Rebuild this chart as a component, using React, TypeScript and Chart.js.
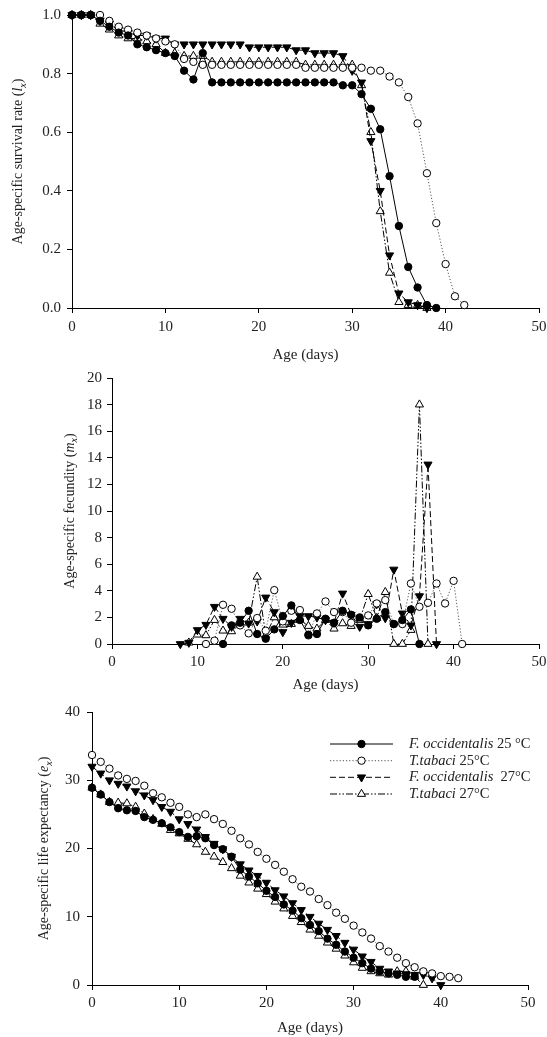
import React, { useEffect, useRef } from 'react';
import { Chart, registerables } from 'chart.js';

Chart.register(...registerables);

const FONT = "'Liberation Serif', 'Times New Roman', serif";
const TEXT = '#222';

// ---------- Data ----------
// Age-specific survival rate (lx), starting at day 0
const survFO25 = [1.0, 1.0, 1.0, 0.98, 0.96, 0.94, 0.93, 0.9, 0.89, 0.88, 0.87, 0.86, 0.81, 0.78, 0.87, 0.77, 0.77, 0.77, 0.77, 0.77, 0.77, 0.77, 0.77, 0.77, 0.77, 0.77, 0.77, 0.77, 0.77, 0.76, 0.76, 0.73, 0.68, 0.61, 0.45, 0.28, 0.14, 0.07, 0.01, 0.0];
const survTT25 = [1.0, 1.0, 1.0, 1.0, 0.98, 0.96, 0.95, 0.94, 0.93, 0.92, 0.91, 0.9, 0.85, 0.84, 0.83, 0.83, 0.83, 0.83, 0.83, 0.83, 0.83, 0.83, 0.83, 0.83, 0.83, 0.82, 0.82, 0.82, 0.82, 0.82, 0.82, 0.82, 0.81, 0.81, 0.79, 0.77, 0.72, 0.63, 0.46, 0.29, 0.15, 0.04, 0.01];
const survFO27 = [1.0, 1.0, 1.0, 0.98, 0.97, 0.95, 0.94, 0.93, 0.93, 0.92, 0.92, 0.9, 0.9, 0.9, 0.9, 0.9, 0.9, 0.9, 0.9, 0.89, 0.89, 0.89, 0.89, 0.89, 0.88, 0.88, 0.87, 0.87, 0.87, 0.86, 0.81, 0.77, 0.57, 0.4, 0.18, 0.05, 0.02, 0.01, 0.0];
const survTT27 = [1.0, 1.0, 1.0, 0.97, 0.95, 0.93, 0.92, 0.92, 0.91, 0.9, 0.87, 0.87, 0.86, 0.86, 0.86, 0.84, 0.84, 0.84, 0.84, 0.84, 0.84, 0.84, 0.84, 0.84, 0.84, 0.83, 0.83, 0.83, 0.83, 0.83, 0.83, 0.76, 0.6, 0.33, 0.12, 0.02, 0.01, 0.01, 0.0];

// Age-specific fecundity (mx)
const fecFO25Start = 13;
const fecFO25 = [0, 1.4, 1.6, 2.5, 0.75, 0.4, 1.1, 2.1, 2.9, 1.8, 0.7, 0.75, 1.9, 1.6, 2.5, 2.2, 2.0, 1.4, 1.9, 2.4, 1.5, 1.8, 2.6, 0];
const fecTT25Start = 11;
const fecTT25 = [0, 0.25, 2.95, 2.65, 1.4, 0.8, 1.95, 1.0, 4.05, 1.7, 2.5, 2.55, 0.65, 2.3, 3.2, 2.4, 2.4, 1.6, 1.9, 2.15, 3.05, 3.3, 1.5, 1.5, 4.55, 2.8, 3.1, 4.55, 3.05, 4.75, 0];
const fecFO27Start = 8;
const fecFO27 = [0, 0.1, 1.05, 1.45, 2.8, 1.9, 1.3, 1.9, 1.55, 1.7, 3.5, 2.4, 0.9, 1.6, 2.1, 2.1, 2.0, 1.8, 1.6, 3.8, 2.2, 1.3, 1.5, 3.0, 1.95, 5.6, 2.3, 1.4, 3.6, 13.5, 0];
const fecTT27Start = 9;
const fecTT27 = [0.1, 0.7, 0.65, 1.8, 1.0, 0.95, 1.5, 1.6, 5.05, 0.65, 2.0, 1.45, 1.5, 1.8, 1.35, 1.15, 1.8, 1.15, 1.55, 1.35, 1.8, 3.75, 1.95, 3.9, 0, 0, 1.05, 18.0, 0];

// Age-specific life expectancy (ex), starting at day 0
const lifeFO25 = [28.9, 27.9, 26.8, 25.9, 25.6, 25.5, 24.6, 24.2, 23.7, 23.1, 22.4, 21.7, 21.8, 21.5, 20.5, 19.9, 18.8, 16.9, 15.9, 14.9, 13.8, 12.9, 11.8, 10.9, 9.8, 8.8, 7.9, 6.8, 5.9, 4.9, 4.0, 3.2, 2.4, 2.0, 1.7, 1.5, 1.2, 1.2];
const lifeTT25 = [33.7, 32.7, 31.7, 30.7, 30.2, 29.9, 29.2, 28.1, 27.5, 26.7, 26.1, 25.0, 24.6, 25.0, 24.3, 23.6, 22.6, 21.5, 20.6, 19.5, 18.5, 17.6, 16.6, 15.5, 14.4, 13.7, 12.6, 11.7, 10.6, 9.7, 8.7, 7.7, 6.8, 5.7, 4.9, 4.0, 3.2, 2.6, 2.0, 1.7, 1.3, 1.2, 1.0];
const lifeFO27 = [32.0, 31.0, 30.0, 29.5, 29.1, 28.4, 27.8, 27.1, 26.1, 25.4, 24.3, 23.6, 22.8, 21.7, 20.7, 19.9, 18.8, 17.7, 16.8, 16.0, 15.0, 13.9, 13.0, 12.0, 11.0, 10.0, 9.0, 8.1, 7.2, 6.2, 5.2, 4.2, 3.4, 2.4, 2.0, 1.7, 1.6, 1.5, 1.5, 1.0, 0];
const lifeTT27 = [28.9, 27.9, 26.8, 26.7, 26.6, 26.1, 25.1, 24.3, 23.6, 22.7, 22.2, 21.4, 20.6, 19.5, 18.8, 18.0, 17.1, 16.0, 15.0, 14.1, 13.3, 12.2, 11.2, 10.1, 9.2, 8.1, 7.2, 6.2, 5.3, 4.3, 3.3, 2.5, 2.0, 1.7, 1.5, 2.0, 2.0, 1.2, 0];

// Legend / series names
const speciesNames = ['F. occidentalis', 'T.tabaci', 'F. occidentalis', 'T.tabaci'];
const tempNames = [' 25 °C', ' 25°C', '  27°C', ' 27°C'];

// ---------- Styles ----------
const seriesStyles = [
  { borderColor: '#000', borderWidth: 1, borderDash: [] as number[], pointStyle: 'circle', pointRotation: 0, pointRadius: 3.7, pointBackgroundColor: '#000' },
  { borderColor: '#555', borderWidth: 1, borderDash: [1.2, 2], pointStyle: 'circle', pointRotation: 0, pointRadius: 3.7, pointBackgroundColor: '#fff' },
  { borderColor: '#000', borderWidth: 1, borderDash: [6, 3], pointStyle: 'triangle', pointRotation: 180, pointRadius: 4.7, pointBackgroundColor: '#000' },
  { borderColor: '#000', borderWidth: 1, borderDash: [7, 2, 1.5, 2, 1.5, 2], pointStyle: 'triangle', pointRotation: 0, pointRadius: 4.7, pointBackgroundColor: '#fff' },
];

function toPoints(values: number[], start: number) {
  return values.map((v, i) => ({ x: start + i, y: v }));
}

function makeDatasets(series: { values: number[]; start: number }[]) {
  return series.map((s, i) => {
    const st = seriesStyles[i];
    return {
      label: speciesNames[i] + tempNames[i],
      data: toPoints(s.values, s.start),
      borderColor: st.borderColor,
      borderWidth: st.borderWidth,
      borderDash: st.borderDash,
      pointStyle: st.pointStyle,
      rotation: st.pointRotation,
      pointRotation: st.pointRotation,
      pointRadius: st.pointRadius,
      pointBackgroundColor: st.pointBackgroundColor,
      pointBorderColor: '#000',
      pointBorderWidth: 1,
      tension: 0,
      fill: false,
      clip: false as any,
    };
  });
}

type Part = { t: string; italic?: boolean; sub?: boolean };

function yTitlePlugin(id: string, parts: Part[], cx: number, size = 14) {
  return {
    id,
    afterDraw(chart: any) {
      const { ctx, chartArea } = chart;
      const cy = (chartArea.top + chartArea.bottom) / 2;
      const fontFor = (p: Part) => `${p.italic ? 'italic ' : ''}${p.sub ? Math.round(size * 0.72) : size}px ${FONT}`;
      ctx.save();
      let total = 0;
      const widths = parts.map((p) => {
        ctx.font = fontFor(p);
        const w = ctx.measureText(p.t).width;
        total += w;
        return w;
      });
      ctx.translate(cx, cy);
      ctx.rotate(-Math.PI / 2);
      ctx.fillStyle = TEXT;
      ctx.textBaseline = 'alphabetic';
      ctx.textAlign = 'left';
      let x = -total / 2;
      parts.forEach((p, i) => {
        ctx.font = fontFor(p);
        ctx.fillText(p.t, x, size * 0.34 + (p.sub ? size * 0.25 : 0));
        x += widths[i];
      });
      ctx.restore();
    },
  };
}

function drawMarker(ctx: CanvasRenderingContext2D, style: string, rotation: number, x: number, y: number, r: number, fill: string) {
  ctx.beginPath();
  if (style === 'circle') {
    ctx.arc(x, y, r, 0, Math.PI * 2);
  } else {
    let rad = (rotation * Math.PI) / 180;
    ctx.moveTo(x + Math.sin(rad) * r, y - Math.cos(rad) * r);
    rad += (2 * Math.PI) / 3;
    ctx.lineTo(x + Math.sin(rad) * r, y - Math.cos(rad) * r);
    rad += (2 * Math.PI) / 3;
    ctx.lineTo(x + Math.sin(rad) * r, y - Math.cos(rad) * r);
    ctx.closePath();
  }
  ctx.fillStyle = fill;
  ctx.fill();
  ctx.strokeStyle = '#000';
  ctx.lineWidth = 1;
  ctx.stroke();
}

const legendRows = [50, 66.7, 83.3, 100];

const legendPlugin = {
  id: 'lineLegend',
  afterDraw(chart: any) {
    const { ctx } = chart;
    chart.data.datasets.forEach((ds: any, i: number) => {
      const y = legendRows[i];
      ctx.save();
      ctx.strokeStyle = ds.borderColor;
      ctx.lineWidth = ds.borderWidth;
      ctx.setLineDash(ds.borderDash || []);
      ctx.beginPath();
      ctx.moveTo(330, y);
      ctx.lineTo(393, y);
      ctx.stroke();
      ctx.setLineDash([]);
      drawMarker(ctx, ds.pointStyle, ds.pointRotation, 361.5, y, ds.pointRadius, ds.pointBackgroundColor);
      ctx.fillStyle = TEXT;
      ctx.textBaseline = 'middle';
      ctx.textAlign = 'left';
      ctx.font = `italic 14.5px ${FONT}`;
      ctx.fillText(speciesNames[i], 409, y);
      const w = ctx.measureText(speciesNames[i]).width;
      ctx.font = `14.5px ${FONT}`;
      ctx.fillText(tempNames[i], 409 + w, y);
      ctx.restore();
    });
  },
};

type ChartSpec = {
  top: number;
  height: number;
  plotLeft: number;
  plotRight: number;
  plotTop: number;
  plotBottom: number;
  yMax: number;
  yStep: number;
  yDecimals: number;
  xTickPad: number;
  yTickPad: number;
  yTitle: Part[];
  yTitleX: number;
  series: { values: number[]; start: number }[];
  legend?: boolean;
};

function buildConfig(spec: ChartSpec): any {
  const tickFont = { family: FONT, size: 15 };
  return {
    type: 'line',
    data: { datasets: makeDatasets(spec.series) },
    options: {
      responsive: false,
      animation: false,
      devicePixelRatio: 1,
      layout: { padding: { left: 0, top: spec.plotTop, right: 547 - spec.plotRight, bottom: 0 } },
      plugins: { legend: { display: false }, tooltip: { enabled: false } },
      scales: {
        x: {
          type: 'linear',
          min: 0,
          max: 50,
          ticks: { stepSize: 10, font: tickFont, color: TEXT, padding: spec.xTickPad, maxRotation: 0, autoSkip: false },
          grid: { display: true, drawOnChartArea: false, drawTicks: true, tickLength: 5, color: '#000', lineWidth: 1 },
          border: { display: true, color: '#000', width: 1 },
          title: { display: true, text: 'Age (days)', font: { family: FONT, size: 15 }, color: TEXT, padding: 0 },
          afterFit: (s: any) => {
            s.height = spec.height - spec.plotBottom;
            s.paddingLeft = 0;
            s.paddingRight = 0;
          },
        },
        y: {
          type: 'linear',
          min: 0,
          max: spec.yMax,
          ticks: {
            stepSize: spec.yStep,
            font: tickFont,
            color: TEXT,
            padding: spec.yTickPad,
            callback: (v: any) => Number(v).toFixed(spec.yDecimals),
          },
          grid: { display: true, drawOnChartArea: false, drawTicks: true, tickLength: 5, color: '#000', lineWidth: 1 },
          border: { display: true, color: '#000', width: 1 },
          afterFit: (s: any) => {
            s.width = spec.plotLeft;
            s.paddingTop = 0;
            s.paddingBottom = 0;
          },
        },
      },
    },
    plugins: [yTitlePlugin('yTitle', spec.yTitle, spec.yTitleX), ...(spec.legend ? [legendPlugin] : [])],
  };
}

function LineChart({ spec }: { spec: ChartSpec }) {
  const ref = useRef<HTMLCanvasElement>(null);
  useEffect(() => {
    const chart = new Chart(ref.current as HTMLCanvasElement, buildConfig(spec));
    return () => chart.destroy();
  }, []);
  return (
    <canvas
      ref={ref}
      width={547}
      height={spec.height}
      style={{ position: 'absolute', left: 0, top: spec.top, width: 547, height: spec.height, display: 'block' }}
    />
  );
}

const survivalSpec: ChartSpec = {
  top: 0,
  height: 364,
  plotLeft: 72,
  plotRight: 539,
  plotTop: 15,
  plotBottom: 308,
  yMax: 1,
  yStep: 0.2,
  yDecimals: 1,
  xTickPad: 5,
  yTickPad: 6,
  yTitle: [{ t: 'Age-specific survival rate (' }, { t: 'l', italic: true }, { t: 'x', italic: true, sub: true }, { t: ')' }],
  yTitleX: 17.5,
  series: [
    { values: survFO25, start: 0 },
    { values: survTT25, start: 0 },
    { values: survFO27, start: 0 },
    { values: survTT27, start: 0 },
  ],
};

const fecunditySpec: ChartSpec = {
  top: 364,
  height: 330,
  plotLeft: 112,
  plotRight: 539,
  plotTop: 14,
  plotBottom: 280,
  yMax: 20,
  yStep: 2,
  yDecimals: 0,
  xTickPad: 4,
  yTickPad: 5,
  yTitle: [{ t: 'Age-specific fecundity (' }, { t: 'm', italic: true }, { t: 'x', italic: true, sub: true }, { t: ')' }],
  yTitleX: 69,
  series: [
    { values: fecFO25, start: fecFO25Start },
    { values: fecTT25, start: fecTT25Start },
    { values: fecFO27, start: fecFO27Start },
    { values: fecTT27, start: fecTT27Start },
  ],
};

const lifeSpec: ChartSpec = {
  top: 694,
  height: 343,
  plotLeft: 92,
  plotRight: 528,
  plotTop: 18,
  plotBottom: 291,
  yMax: 40,
  yStep: 10,
  yDecimals: 0,
  xTickPad: 4,
  yTickPad: 7,
  yTitle: [{ t: 'Age-specific life expectancy (' }, { t: 'e', italic: true }, { t: 'x', italic: true, sub: true }, { t: ')' }],
  yTitleX: 43.5,
  series: [
    { values: lifeFO25, start: 0 },
    { values: lifeTT25, start: 0 },
    { values: lifeFO27, start: 0 },
    { values: lifeTT27, start: 0 },
  ],
  legend: true,
};

export default function App() {
  return (
    <div style={{ position: 'absolute', left: 0, top: 0, width: 547, height: 1037, overflow: 'hidden', background: '#fff' }}>
      <LineChart spec={survivalSpec} />
      <LineChart spec={fecunditySpec} />
      <LineChart spec={lifeSpec} />
    </div>
  );
}
